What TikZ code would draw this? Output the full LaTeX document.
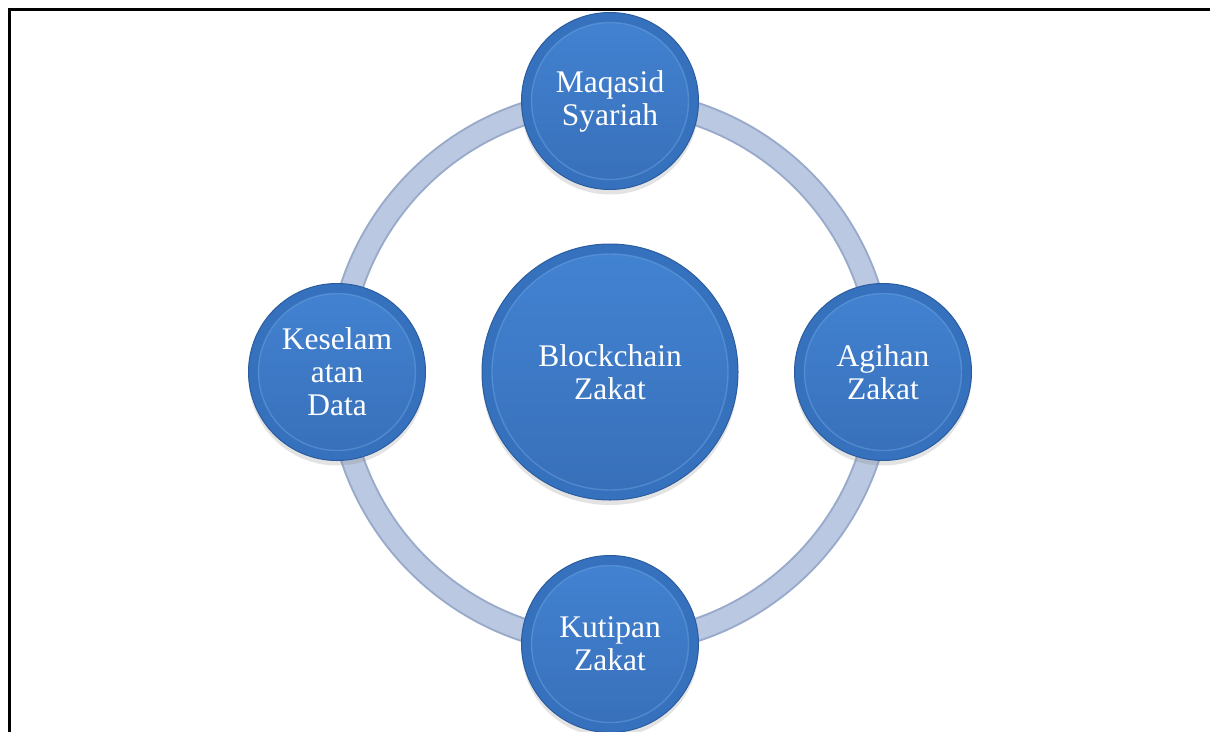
\documentclass[tikz,border=0pt]{standalone}
\usepackage{fontspec}
\setmainfont{Liberation Serif}
\usetikzlibrary{shadows}
\definecolor{rimblue}{HTML}{3671BE}
\definecolor{edgeblue}{HTML}{2B5C9E}
\definecolor{topblue}{HTML}{4283D2}
\definecolor{botblue}{HTML}{386FB9}
\definecolor{hiblue}{HTML}{6FA7E2}
\definecolor{ringfill}{HTML}{BAC8E1}
\definecolor{ringedge}{HTML}{99AACA}
\tikzset{
  bubble/.style={circle, minimum size=#1, inner sep=0pt, fill=rimblue,
    draw=edgeblue, line width=1pt, text=white, align=center,
    font=\fontsize{31.5}{33}\selectfont,
    drop shadow={opacity=0.22, shadow xshift=0pt, shadow yshift=-5pt},
    path picture={
      \fill[top color=topblue, bottom color=botblue]
        (path picture bounding box.center) circle[radius=#1/2-10];
      \draw[hiblue, line width=1.4pt, opacity=0.45]
        (path picture bounding box.center) circle[radius=#1/2-10];
    }},
  frameline/.style={line width=3pt, black}
}
\begin{document}
\begin{tikzpicture}[x=1pt,y=-1pt]
\useasboundingbox (0,0) rectangle (1210,731);
\fill[white] (0,0) rectangle (1210,731);
\draw[frameline] (9,733) -- (9,9.5) -- (1212,9.5);
\coordinate (ctr) at (610,372);
% ring
\draw[ringedge, line width=24pt] (ctr) circle[radius=272];
\draw[ringfill, line width=20pt] (ctr) circle[radius=272];
% nodes
\node[bubble=256] (blk) at (ctr) {Blockchain\\Zakat};
\node[bubble=177] (maq) at (610,101) {Maqasid\\Syariah};
\node[bubble=177] (agi) at (883,372) {Agihan\\Zakat};
\node[bubble=177] (kut) at (610,644) {Kutipan\\Zakat};
\node[bubble=177] (kes) at (337,372) {Keselam\\atan\\Data};
\end{tikzpicture}
\end{document}
